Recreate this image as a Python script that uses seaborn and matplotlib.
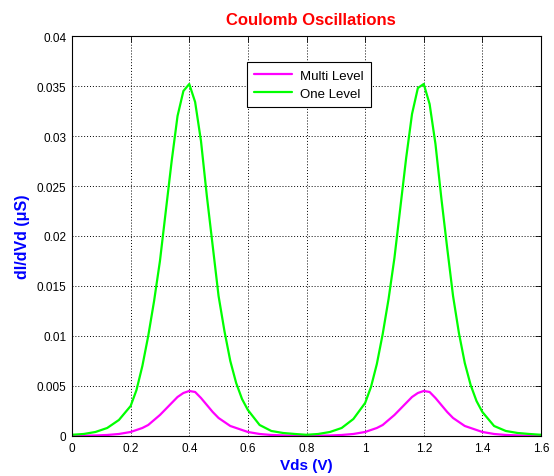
import matplotlib
matplotlib.use("Agg")
import matplotlib.pyplot as plt
import seaborn as sns
import pandas as pd

vds = [0.00, 0.04, 0.08, 0.12, 0.16, 0.20, 0.22, 0.24, 0.26, 0.28, 0.30,
       0.32, 0.34, 0.36, 0.38, 0.40, 0.42, 0.44, 0.46, 0.48, 0.50,
       0.52, 0.54, 0.56, 0.58, 0.60, 0.64, 0.68, 0.72, 0.76, 0.80,
       0.84, 0.88, 0.92, 0.96, 1.00, 1.02, 1.04, 1.06, 1.08, 1.10,
       1.12, 1.14, 1.16, 1.18, 1.20, 1.22, 1.24, 1.26, 1.28, 1.30,
       1.32, 1.34, 1.36, 1.38, 1.40, 1.44, 1.48, 1.52, 1.56, 1.60]

one_level = [0.00012, 0.0002, 0.0004, 0.0008, 0.0016, 0.0030, 0.0046, 0.0070, 0.0100, 0.0135, 0.0175,
             0.0225, 0.0275, 0.0320, 0.0345, 0.0352, 0.0334, 0.0295, 0.0240, 0.0190, 0.0140,
             0.0105, 0.0075, 0.0053, 0.0037, 0.0026, 0.0011, 0.0005, 0.0003, 0.0002, 0.00012,
             0.0002, 0.0004, 0.0008, 0.0017, 0.0033, 0.0049, 0.0072, 0.0102, 0.0137, 0.0178,
             0.0228, 0.0278, 0.0322, 0.0348, 0.0352, 0.0332, 0.0292, 0.0238, 0.0188, 0.0140,
             0.0103, 0.0073, 0.0051, 0.0035, 0.0024, 0.0010, 0.0005, 0.0003, 0.0002, 0.00012]

multi_level = [0.00002, 0.00003, 0.00005, 0.0001, 0.0002, 0.0004, 0.0006, 0.0008, 0.0011, 0.0016, 0.0021,
               0.0027, 0.0033, 0.0039, 0.0043, 0.0045, 0.0044, 0.0038, 0.0031, 0.0024, 0.0018,
               0.0014, 0.0010, 0.0008, 0.0006, 0.0004, 0.0002, 0.0001, 0.00006, 0.00003, 0.00002,
               0.00003, 0.00005, 0.0001, 0.0002, 0.0004, 0.0006, 0.0008, 0.0011, 0.0016, 0.0021,
               0.0027, 0.0033, 0.0039, 0.0043, 0.0045, 0.0044, 0.0038, 0.0031, 0.0024, 0.0018,
               0.0014, 0.0010, 0.0008, 0.0006, 0.0004, 0.0002, 0.0001, 0.00006, 0.00003, 0.00002]

series_names = ["Multi Level", "One Level"]
x_ticks = [0, 0.2, 0.4, 0.6, 0.8, 1, 1.2, 1.4, 1.6]
x_tick_labels = ["0", "0.2", "0.4", "0.6", "0.8", "1", "1.2", "1.4", "1.6"]
y_ticks = [0, 0.005, 0.01, 0.015, 0.02, 0.025, 0.03, 0.035, 0.04]
y_tick_labels = ["0", "0.005", "0.01", "0.015", "0.02", "0.025", "0.03", "0.035", "0.04"]

df = pd.DataFrame({
    "Vds": vds + vds,
    "G": multi_level + one_level,
    "series": [series_names[0]] * len(vds) + [series_names[1]] * len(vds),
})

sns.set_style("white")
plt.rcParams["font.family"] = ["Liberation Sans", "DejaVu Sans"]
plt.rcParams["text.color"] = "black"
plt.rcParams["axes.labelcolor"] = "black"

fig = plt.figure(figsize=(5.54, 4.77), dpi=100)
ax = fig.add_axes([0.130, 0.0839, 0.8465, 0.8385])

sns.lineplot(data=df, x="Vds", y="G", hue="series", hue_order=series_names,
             palette={"Multi Level": "#FF00FF", "One Level": "#00FF00"},
             linewidth=1.6, ax=ax, legend=True)

ax.set_xlim(0, 1.6)
ax.set_ylim(0, 0.04)
ax.set_xticks(x_ticks)
ax.set_xticklabels(x_tick_labels)
ax.set_yticks(y_ticks)
ax.set_yticklabels(y_tick_labels)
ax.tick_params(direction="in", top=True, right=True, length=4, width=0.6,
               labelsize=8.5, colors="black", pad=4)
ax.grid(True, linestyle=(0, (1, 2)), color="black", linewidth=0.7)
for s in ax.spines.values():
    s.set_color("black")
    s.set_linewidth(0.8)

ax.set_title("Coulomb Oscillations", color="#FF0000", fontweight="bold", fontsize=12,
             pad=9, x=0.51)
ax.set_xlabel("Vds (V)", color="#0000FF", fontweight="bold", fontsize=11, labelpad=3)
ax.set_ylabel("dI/dVd (\u03bcS)", color="#0000FF", fontweight="bold", fontsize=11.5, labelpad=5)

leg = ax.legend(loc="upper left", bbox_to_anchor=(0.373, 0.935), fontsize=9.5,
                frameon=True, fancybox=False, edgecolor="black", framealpha=1,
                borderpad=0.55, handlelength=2.9, labelspacing=0.45, borderaxespad=0,
                handletextpad=0.6)
leg.get_frame().set_linewidth(0.8)
for t in leg.get_texts():
    t.set_color("black")

fig.savefig("out.png", dpi=100)
